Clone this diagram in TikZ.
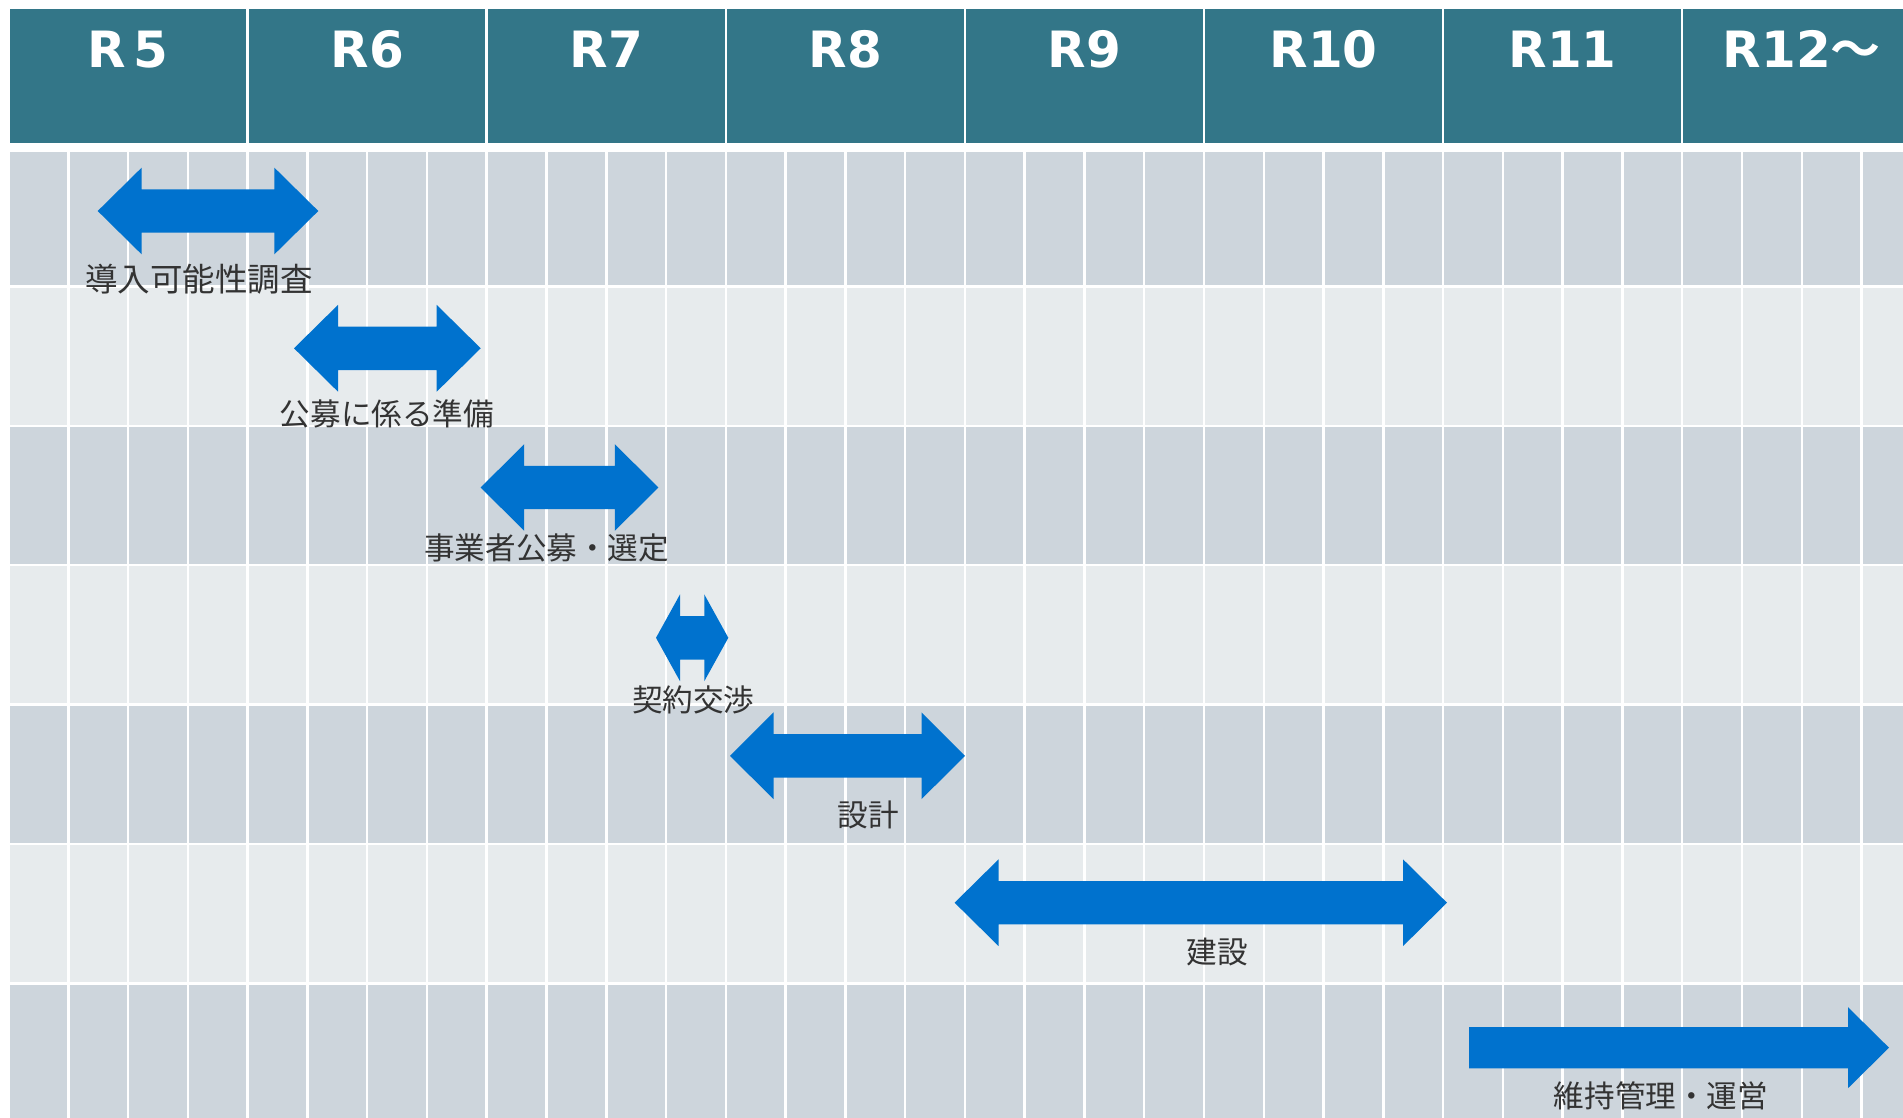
\documentclass[tikz,border=0pt]{standalone}
\usepackage{fontspec}
\newfontfamily\jpfont{Noto Sans CJK JP}[BoldFont={Noto Sans CJK JP Bold}]
\newfontfamily\hdrfont{DejaVu Sans}

\definecolor{hdrteal}{HTML}{337688}
\definecolor{rowdark}{HTML}{CDD5DC}
\definecolor{rowlight}{HTML}{E7EBED}
\definecolor{barblue}{HTML}{0072CE}
\definecolor{labelgray}{HTML}{333333}

% double-headed block arrow: left tip, right tip, centre y, head length
\newcommand\twoheadbar[4]{%
  \fill[barfill] (#1,#3) -- (#1+#4,#3-43.4) -- (#1+#4,#3-21.7) -- (#2-#4,#3-21.7)
    -- (#2-#4,#3-43.4) -- (#2,#3) -- (#2-#4,#3+43.4) -- (#2-#4,#3+21.7)
    -- (#1+#4,#3+21.7) -- (#1+#4,#3+43.4) -- cycle;}

\begin{document}
\begin{tikzpicture}[x=1pt,y=-1pt,
  hdrtext/.style={text=white,font=\hdrfont\bfseries\fontsize{50}{60}\selectfont,anchor=base,inner sep=0},
  tasklabel/.style={text=labelgray,font=\jpfont\fontsize{30.6}{36}\selectfont,inner sep=0,anchor=center},
  barfill/.style={fill=barblue},
  gridline/.style={draw=white,line width=2.5pt}]
\useasboundingbox (0,0) rectangle (1903,1118);
\fill[white] (0,0) rectangle (1903,1118);

% year header band
\fill[hdrteal] (10,9.3) rectangle (1903,143);
\foreach \k in {1,...,7}
  \draw[gridline] ({8.5+239.1*\k},9.3) -- ({8.5+239.1*\k},143);

% alternating row bands
\foreach \j/\c in {0/rowdark,1/rowlight,2/rowdark,3/rowlight,4/rowdark,5/rowlight,6/rowdark} {
  \pgfmathsetmacro\ytop{\j==0 ? 151.7 : 147.1+139.36*\j}
  \pgfmathsetmacro\ybot{147.1+139.36*(\j+1)}
  \fill[\c] (10,\ytop) rectangle (1903,\ybot);
}
% quarter grid
\foreach \i in {1,...,31}
  \draw[gridline] ({8.5+59.775*\i},151.7) -- ({8.5+59.775*\i},1118);
\foreach \j in {1,...,6}
  \draw[gridline] (10,{147.1+139.36*\j}) -- (1903,{147.1+139.36*\j});

% year labels
\node[hdrtext] (y5)  at ({8.5+239.1*0.5},67.7) {R\kern8pt5};
\node[hdrtext] (y6)  at ({8.5+239.1*1.5},67.7) {R6};
\node[hdrtext] (y7)  at ({8.5+239.1*2.5},67.7) {R7};
\node[hdrtext] (y8)  at ({8.5+239.1*3.5},67.7) {R8};
\node[hdrtext] (y9)  at ({8.5+239.1*4.5},67.7) {R9};
\node[hdrtext] (y10) at ({8.5+239.1*5.5},67.7) {R10};
\node[hdrtext] (y11) at ({8.5+239.1*6.5},67.7) {R11};
\node[hdrtext] (y12) at ({8.5+239.1*7.5},67.7) {R12{\jpfont\bfseries ～}};

% schedule bars
\twoheadbar{97.7}{318.3}{211}{44}
\twoheadbar{294}{480.7}{348.3}{44}
\twoheadbar{480.7}{658.3}{487.5}{43.5}
\twoheadbar{656}{728.3}{637.8}{24}
\twoheadbar{730}{965}{755.8}{43.5}
\twoheadbar{954.6}{1447}{902.7}{44}
\fill[barfill] (1469,1027.1) -- (1848,1027.1) -- (1848,1007.2) -- (1889,1047.7)
  -- (1848,1088.2) -- (1848,1068.3) -- (1469,1068.3) -- cycle;

% task labels
\node[tasklabel,font=\jpfont\fontsize{32.5}{38}\selectfont] (t1) at (199,279.5) {導入可能性調査};
\node[tasklabel] (t2) at (387,413.7) {公募に係る準備};
\node[tasklabel] (t3) at (546.7,548) {事業者公募・選定};
\node[tasklabel] (t4) at (693.3,699.5) {契約交渉};
\node[tasklabel] (t5) at (868,814.7) {設計};
\node[tasklabel] (t6) at (1217,951.7) {建設};
\node[tasklabel] (t7) at (1661,1096) {維持管理・運営};
\end{tikzpicture}
\end{document}
